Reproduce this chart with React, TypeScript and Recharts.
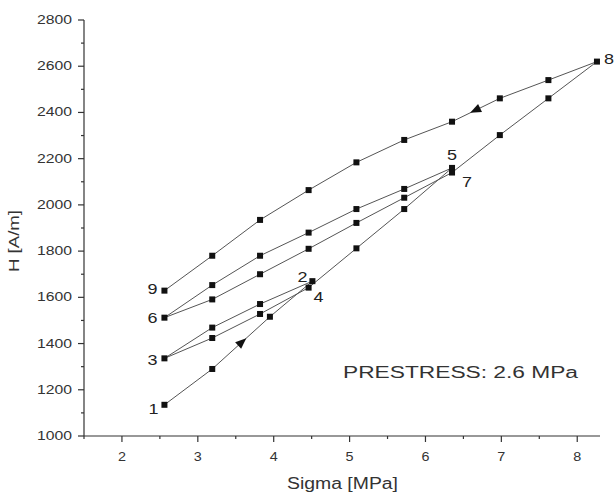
import {
  ComposedChart,
  Customized,
  Line,
  Scatter,
  XAxis,
  YAxis,
} from "recharts";

// measurement path, in the order it was taken (1 -> 2 -> ... -> 9)
const sigmaPath = [
  2.56, 3.19, 3.95, 4.51, 3.82, 3.19, 2.56, 3.19, 3.82, 4.46, 5.09, 5.72, 6.35,
  5.72, 5.09, 4.46, 3.82, 3.19, 2.56, 3.19, 3.82, 4.46, 5.09, 5.72, 6.35, 6.98,
  7.62, 8.26, 7.62, 6.98, 6.35, 5.72, 5.09, 4.46, 3.82, 3.19, 2.56,
];
const hPath = [
  1135, 1290, 1516, 1670, 1571, 1469, 1336, 1424, 1528, 1642, 1812, 1982, 2160,
  2069, 1982, 1880, 1780, 1653, 1512, 1591, 1700, 1810, 1922, 2031, 2140, 2302,
  2461, 2620, 2540, 2461, 2360, 2281, 2184, 2064, 1935, 1780, 1629,
];

const pointNames = ["1", "2", "3", "4", "5", "6", "7", "8", "9"];
const pointIndex = [0, 3, 6, 9, 12, 18, 24, 27, 36];

const arrowSigma = [3.58, 6.66];
const arrowH = [1406, 2410];

const xTicks = [1.5, 2, 2.5, 3, 3.5, 4, 4.5, 5, 5.5, 6, 6.5, 7, 7.5, 8];
const yTicks = [
  1000, 1100, 1200, 1300, 1400, 1500, 1600, 1700, 1800, 1900, 2000, 2100, 2200,
  2300, 2400, 2500, 2600, 2700, 2800,
];

const pathData = sigmaPath.map((sigma, i) => ({ sigma, h: hPath[i] }));
const nameData = pointNames.map((name, i) => ({
  sigma: sigmaPath[pointIndex[i]],
  h: hPath[pointIndex[i]],
  name,
}));
const arrowData = arrowSigma.map((sigma, i) => ({ sigma, h: arrowH[i], i }));

// label offsets (px) relative to their point
const nameOffset: Record<string, { dx: number; dy: number; anchor: string }> = {
  "1": { dx: -6, dy: 9, anchor: "end" },
  "2": { dx: -5, dy: 1, anchor: "end" },
  "3": { dx: -7, dy: 7, anchor: "end" },
  "4": { dx: 5, dy: 14, anchor: "start" },
  "5": { dx: 0, dy: -8, anchor: "middle" },
  "6": { dx: -7, dy: 5, anchor: "end" },
  "7": { dx: 10, dy: 14, anchor: "start" },
  "8": { dx: 7, dy: 2, anchor: "start" },
  "9": { dx: -7, dy: 3, anchor: "end" },
};
const arrowAngle = [-42, 154];

const ink = "#333";
const font = "'Liberation Sans', Arial, sans-serif";

function YTick({ x, y, payload }: any) {
  const major = payload.value % 200 === 0;
  return (
    <g>
      <line x1={x - (major ? 6 : 3)} x2={x} y1={y} y2={y} stroke={ink} strokeWidth={1.2} />
      {major && (
        <text
          x={x - 12}
          y={y + 4}
          textAnchor="end"
          fontSize={12}
          fill={ink}
          fontFamily={font}
          textLength={35}
          lengthAdjust="spacingAndGlyphs"
        >
          {payload.value}
        </text>
      )}
    </g>
  );
}

function XTick({ x, y, payload }: any) {
  const major = Number.isInteger(payload.value);
  return (
    <g>
      <line x1={x} x2={x} y1={y} y2={y + (major ? 6 : 3)} stroke={ink} strokeWidth={1.2} />
      {major && (
        <text
          x={x}
          y={y + 25}
          textAnchor="middle"
          fontSize={13}
          fill={ink}
          fontFamily={font}
          textLength={8}
          lengthAdjust="spacingAndGlyphs"
        >
          {payload.value}
        </text>
      )}
    </g>
  );
}

function Square(p: any) {
  return <rect key={p.index} x={p.cx - 3} y={p.cy - 3} width={6} height={6} fill="#111" />;
}

function PointName(p: any) {
  const o = nameOffset[p.payload.name];
  return (
    <text
      x={p.cx + o.dx}
      y={p.cy + o.dy}
      textAnchor={o.anchor}
      fontSize={15}
      fill="#222"
      fontFamily={font}
      textLength={10}
      lengthAdjust="spacingAndGlyphs"
    >
      {p.payload.name}
    </text>
  );
}

function Arrow(p: any) {
  return (
    <polygon
      points="6,0 -5,-4.5 -5,4.5"
      fill="#111"
      transform={`translate(${p.cx},${p.cy}) rotate(${arrowAngle[p.payload.i]})`}
    />
  );
}

function Note() {
  return (
    <text
      x={343}
      y={378}
      fontSize={16}
      fill={ink}
      fontFamily={font}
      textLength={235}
      lengthAdjust="spacingAndGlyphs"
    >
      PRESTRESS: 2.6 MPa
    </text>
  );
}

export default function App() {
  return (
    <div style={{ position: "absolute", left: 0, top: 0, background: "#fff" }}>
      <ComposedChart
        width={615}
        height={493}
        margin={{ top: 20, right: 15, left: 0, bottom: 0 }}
      >
        <XAxis
          type="number"
          dataKey="sigma"
          domain={[1.5, 8.3]}
          ticks={xTicks}
          interval={0}
          tickSize={0}
          tickMargin={0}
          tickLine={false}
          tick={<XTick />}
          height={57}
          stroke={ink}
          strokeWidth={1.2}
          label={{
            content: () => (
              <text
                x={287}
                y={489}
                fontSize={16}
                fill={ink}
                fontFamily={font}
                textLength={111}
                lengthAdjust="spacingAndGlyphs"
              >
                Sigma [MPa]
              </text>
            ),
          }}
        />
        <YAxis
          type="number"
          dataKey="h"
          domain={[1000, 2800]}
          ticks={yTicks}
          interval={0}
          tickSize={0}
          tickMargin={0}
          tickLine={false}
          tick={<YTick />}
          width={84}
          stroke={ink}
          strokeWidth={1.2}
          label={{
            content: () => (
              <text
                x={0}
                y={0}
                transform="translate(19,241) rotate(-90)"
                textAnchor="middle"
                fontSize={15}
                fill={ink}
                fontFamily={font}
                textLength={62}
                lengthAdjust="spacingAndGlyphs"
              >
                H [A/m]
              </text>
            ),
          }}
        />
        <Line
          data={pathData}
          dataKey="h"
          type="linear"
          stroke="#555"
          strokeWidth={1}
          dot={Square}
          activeDot={false}
          isAnimationActive={false}
        />
        <Scatter data={arrowData} dataKey="h" shape={Arrow} isAnimationActive={false} />
        <Scatter data={nameData} dataKey="h" shape={PointName} isAnimationActive={false} />
        <Customized component={Note} />
      </ComposedChart>
    </div>
  );
}
